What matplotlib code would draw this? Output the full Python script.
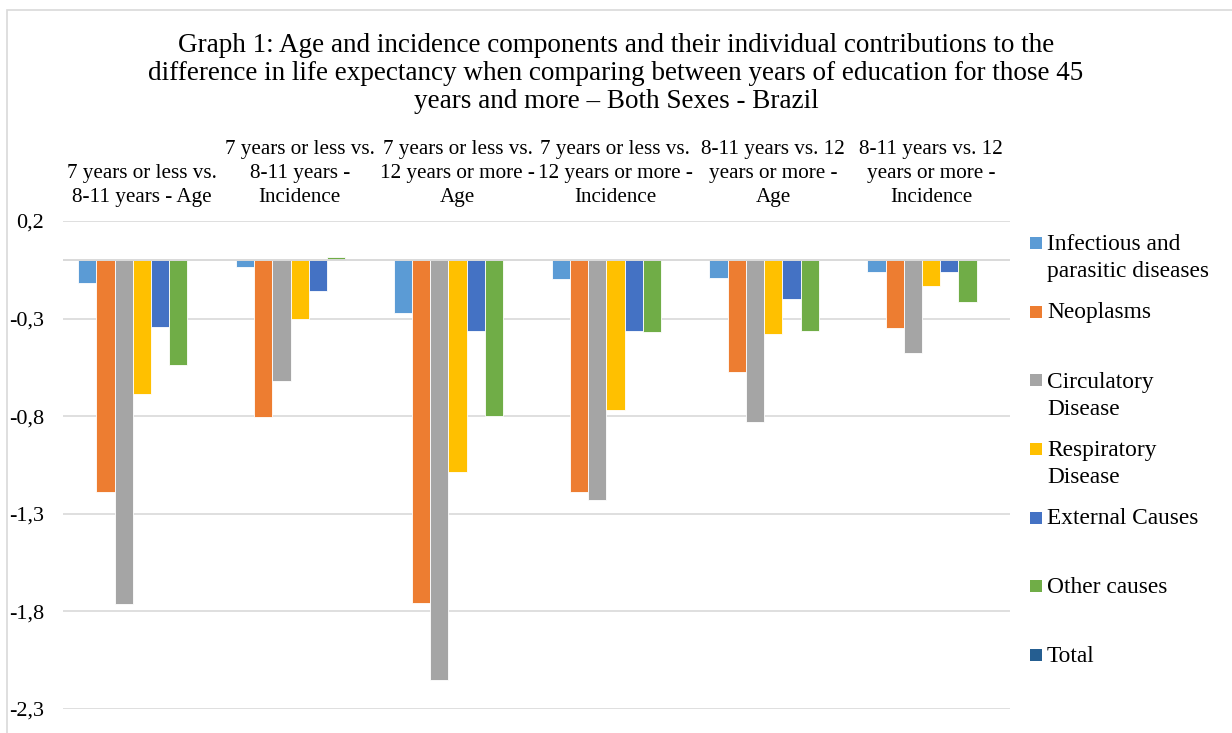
import numpy as np
import matplotlib
matplotlib.use("Agg")
import matplotlib.pyplot as plt
from matplotlib.patches import Rectangle
from matplotlib.ticker import FuncFormatter

plt.rcParams['font.family'] = ['Liberation Serif', 'DejaVu Serif']

title = ("Graph 1: Age and incidence components and their individual contributions to the\n"
         "difference in life expectancy when comparing between years of education for those 45\n"
         "years and more \u2013 Both Sexes - Brazil")

categories = [
    "7 years or less vs.\n8-11 years - Age",
    "7 years or less vs.\n8-11 years -\nIncidence",
    "7 years or less vs.\n12 years or more -\nAge",
    "7 years or less vs.\n12 years or more -\nIncidence",
    "8-11 years vs. 12\nyears or more -\nAge",
    "8-11 years vs. 12\nyears or more -\nIncidence",
]

series_names = ["Infectious and\nparasitic diseases", "Neoplasms", "Circulatory\nDisease",
                "Respiratory\nDisease", "External Causes", "Other causes", "Total"]

infectious = [-0.119, -0.037, -0.270, -0.095, -0.090, -0.060]
neoplasms = [-1.187, -0.803, -1.755, -1.187, -0.573, -0.349]
circulatory = [-1.762, -0.622, -2.150, -1.228, -0.830, -0.476]
respiratory = [-0.684, -0.301, -1.085, -0.769, -0.379, -0.131]
external = [-0.343, -0.158, -0.366, -0.366, -0.201, -0.060]
other = [-0.537, 0.017, -0.801, -0.371, -0.366, -0.213]
total = [np.nan, np.nan, np.nan, np.nan, np.nan, np.nan]

series = [infectious, neoplasms, circulatory, respiratory, external, other, total]
colors = ["#5B9BD5", "#ED7D31", "#A5A5A5", "#FFC000", "#4472C4", "#70AD47", "#255E91"]

yticks = [0.2, -0.3, -0.8, -1.3, -1.8, -2.3]

W, H = 1232, 733
fig = plt.figure(figsize=(W / 100, H / 100), dpi=100)

def fx(px):
    return px / W

def fy(py):
    return 1 - py / H

# chart border
fig.patches.append(Rectangle((fx(7), fy(740)), fx(1240) - fx(7), fy(10) - fy(740),
                             transform=fig.transFigure, fill=False,
                             edgecolor="#D9D9D9", linewidth=1.2))

left, right, top, bottom = 63, 1010, 221, 709
ax = fig.add_axes([fx(left), fy(bottom), fx(right) - fx(left), fy(top) - fy(bottom)])

x = np.arange(len(categories))
n = len(series)
bw = 0.1155
for i, (vals, c) in enumerate(zip(series, colors)):
    ax.bar(x + (i - (n - 1) / 2) * bw, vals, width=bw, color=c,
           edgecolor="white", linewidth=0.6, zorder=2)

ax.set_ylim(-2.3, 0.2)
ax.set_xlim(-0.5, len(categories) - 0.5)
ax.set_yticks(yticks)
ax.yaxis.set_major_formatter(FuncFormatter(lambda v, p: f"{v:.1f}".replace(".", ",")))
ax.grid(axis="y", color="#D9D9D9", linewidth=1.2, zorder=0)
ax.axhline(0, color="#D9D9D9", linewidth=1.4, zorder=3)
for s in ax.spines.values():
    s.set_visible(False)

ax.set_xticks(x)
ax.set_xticklabels(categories, fontsize=15.2, linespacing=1.36)
ax.tick_params(axis="x", top=True, bottom=False, labeltop=True, labelbottom=False,
               length=0, pad=10, colors="#000000")
ax.tick_params(axis="y", length=0, pad=13.5, labelsize=16)

# title (baseline of last line)
fig.text(0.5, fy(108), title, ha="center", va="baseline", fontsize=19.5, linespacing=1.16)

# legend
for i, (name, c) in enumerate(zip(series_names, colors)):
    base = 249.3 + 68.7 * i
    nlines = name.count("\n") + 1
    fig.patches.append(Rectangle((fx(1030), fy(base - 0.5)), fx(12), fy(0) - fy(12),
                                 transform=fig.transFigure, facecolor=c, edgecolor="none"))
    fig.text(fx(1047), fy(base + 28 * (nlines - 1)), name, ha="left", va="baseline",
             fontsize=16.8, linespacing=1.38)

fig.savefig("out.png", dpi=100)
